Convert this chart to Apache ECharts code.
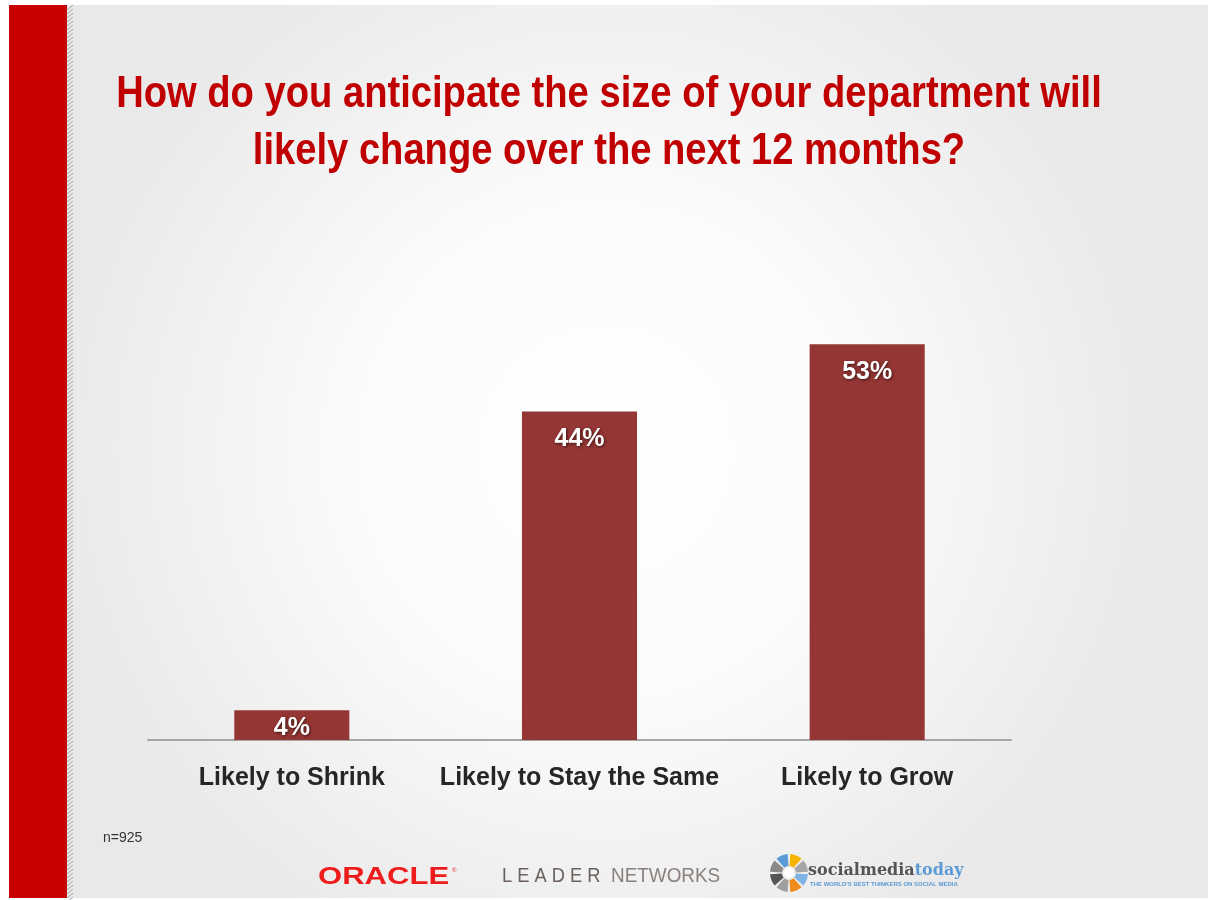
<!DOCTYPE html>
<html>
<head>
<meta charset="utf-8">
<script src="https://cdn.jsdelivr.net/npm/echarts@6/dist/echarts.min.js"></script>
<style>
  html, body { margin: 0; padding: 0; background: #ffffff; }
  #chart { width: 1212px; height: 900px; }
</style>
</head>
<body>
<div id="chart"></div>
<script>
// Survey responses: anticipated change in department size over the next 12 months
const categories = ['Likely to Shrink', 'Likely to Stay the Same', 'Likely to Grow'];
const shares = [4, 44, 53];
const titleLines = ['How do you anticipate the size of your department will', 'likely change over the next 12 months?'];
const sampleNote = 'n=925';

const SANS = '"Liberation Sans", Arial, sans-serif';
const BAR_RED = '#943634';

const chart = echarts.init(document.getElementById('chart'), null, { renderer: 'canvas' });

// diagonal hatch strip next to the red band
const hatch = [];
for (let y = 5; y < 900; y += 4) {
  hatch.push({
    type: 'line',
    shape: { x1: 67, y1: y + 5, x2: 73, y2: y },
    style: { stroke: '#b8b8b8', lineWidth: 1.2 },
    silent: true
  });
}

// socialmediatoday wheel: eight coloured segments around a ring
const wheelColors = ['#f5b400', '#a6a6a6', '#7fb2e5', '#f08a1c', '#a0a0a0', '#555555', '#8a8a8a', '#5b9bd5'];
const wheel = wheelColors.map((c, i) => {
  const a0 = -Math.PI / 2 + i * Math.PI / 4 + 0.07;
  const a1 = a0 + Math.PI / 4 - 0.14;
  return {
    type: 'sector',
    shape: { cx: 789, cy: 873, r0: 7, r: 19, startAngle: a0, endAngle: a1 },
    style: { fill: c },
    silent: true
  };
});

// condensed-looking text: a regular face squeezed horizontally around its anchor point
function squeezedText(x, y, text, font, fill, sx, align) {
  return {
    type: 'text', x: x, y: y, scaleX: sx,
    style: { text: text, font: font, fill: fill, align: align || 'left', verticalAlign: 'top' },
    silent: true
  };
}

chart.setOption({
  backgroundColor: {
    type: 'radial', x: 0.5, y: 0.5, r: 0.62,
    colorStops: [
      { offset: 0, color: '#ffffff' },
      { offset: 0.45, color: '#fbfbfb' },
      { offset: 1, color: '#e9e9e9' }
    ]
  },
  animation: false,
  grid: { left: 148, right: 201, top: 292, bottom: 160, containLabel: false },
  xAxis: {
    type: 'category',
    data: categories,
    axisLine: { show: true, lineStyle: { color: '#a6a6a6', width: 2 } },
    axisTick: { show: false },
    axisLabel: {
      interval: 0,
      margin: 26,
      fontFamily: SANS,
      fontWeight: 'bold',
      fontSize: 25,
      color: '#262626'
    }
  },
  yAxis: {
    type: 'value',
    min: 0,
    max: 60,
    show: false,
    splitLine: { show: false }
  },
  series: [{
    type: 'bar',
    barWidth: '40%',
    data: shares.map((v, i) => i === 0
      ? { value: v, label: { distance: 5 } }
      : { value: v }),
    itemStyle: { color: BAR_RED },
    label: {
      show: true,
      position: 'insideTop',
      distance: 15,
      formatter: '{c}%',
      fontFamily: SANS,
      fontWeight: 'bold',
      fontSize: 25,
      color: '#ffffff',
      textShadowColor: 'rgba(0,0,0,0.6)',
      textShadowBlur: 3,
      textShadowOffsetX: 1,
      textShadowOffsetY: 1
    }
  }],
  graphic: [
    // page frame: white margins and the red band on the left
    { type: 'rect', shape: { x: 0, y: 0, width: 1212, height: 5 }, style: { fill: '#ffffff' }, silent: true },
    { type: 'rect', shape: { x: 0, y: 0, width: 9, height: 900 }, style: { fill: '#ffffff' }, silent: true },
    { type: 'rect', shape: { x: 1208, y: 0, width: 4, height: 900 }, style: { fill: '#ffffff' }, silent: true },
    { type: 'rect', shape: { x: 0, y: 898, width: 1212, height: 2 }, style: { fill: '#ffffff' }, silent: true },
    { type: 'rect', shape: { x: 9, y: 5, width: 58, height: 893 }, style: { fill: '#c80000' }, silent: true },
    { type: 'rect', shape: { x: 67, y: 5, width: 6, height: 893 }, style: { fill: '#ececec' }, silent: true },
    ...hatch,
    // question
    squeezedText(609, 73, titleLines[0], 'bold 44px ' + SANS, '#c00000', 0.867, 'center'),
    squeezedText(609, 130, titleLines[1], 'bold 44px ' + SANS, '#c00000', 0.867, 'center'),
    // sample size
    {
      type: 'text', left: 103, top: 831,
      style: { text: sampleNote, font: '14px ' + SANS, fill: '#333333' }
    },
    // sponsor marks
    squeezedText(318, 866, 'ORACLE', 'bold 23px ' + SANS, '#ee1c1c', 1.35),
    squeezedText(452, 867, '®', '6px ' + SANS, '#ee1c1c', 1),
    squeezedText(502, 866, 'L E A D E R', '21px ' + SANS, '#6b625e', 0.87),
    squeezedText(611, 866, 'NETWORKS', '21px ' + SANS, '#8a817c', 0.9),
    ...wheel,
    { type: 'circle', shape: { cx: 789, cy: 873, r: 5 }, style: { fill: '#ffffff' }, silent: true },
    {
      type: 'text', left: 808, top: 863,
      style: {
        rich: {
          a: { font: 'bold 16px "DejaVu Serif", serif', fill: '#555555' },
          b: { font: 'bold 16px "DejaVu Serif", serif', fill: '#5b9bd5' }
        },
        text: '{a|socialmedia}{b|today}'
      }
    },
    squeezedText(810, 881, "THE WORLD'S BEST THINKERS ON SOCIAL MEDIA", 'bold 6px ' + SANS, '#5b9bd5', 1)
  ]
});
</script>
</body>
</html>
